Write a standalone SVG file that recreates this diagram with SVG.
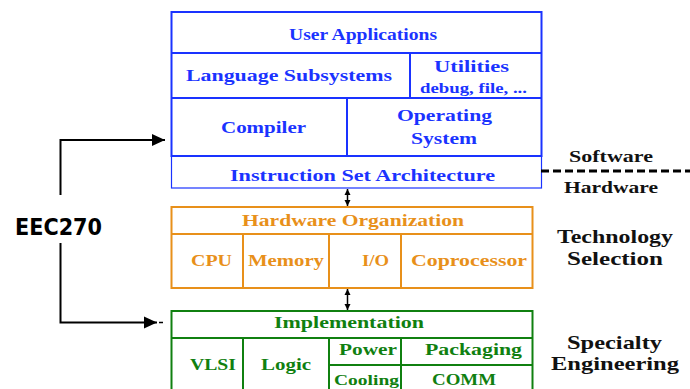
<svg xmlns="http://www.w3.org/2000/svg" width="690" height="389" viewBox="0 0 690 389">
<defs>
<style>
.t{font-family:"Liberation Serif","Times New Roman",serif;font-weight:bold;text-anchor:middle;font-size:17.5px}
.s{font-size:14px}
.m{font-size:15px}
.b{fill:#1a33ff}
.o{fill:#e8901a}
.g{fill:#108010}
.k{fill:#111}
.bl{stroke:#1a33ff;fill:none}
.ol{stroke:#e8901a;fill:none;stroke-width:2}
.gl{stroke:#108010;fill:none;stroke-width:2}
.c{stroke:#000;fill:none;stroke-width:2}
</style>
<marker id="ah" markerUnits="userSpaceOnUse" markerWidth="14" markerHeight="14" viewBox="0 0 14 14" refX="13" refY="7" orient="auto"><path d="M0,1 L13,7 L0,13 Z" fill="#000"/></marker>
<marker id="sh" markerUnits="userSpaceOnUse" markerWidth="6" markerHeight="8" viewBox="0 0 6 8" refX="6" refY="4" orient="auto-start-reverse"><path d="M0,1 L6,4 L0,7 Z" fill="#000"/></marker>
</defs>
<rect width="690" height="389" fill="#fff"/>
<g id="software">
<rect class="bl" x="171.5" y="12" width="370" height="144" stroke-width="2"/>
<line class="bl" x1="171.5" y1="53" x2="541.5" y2="53" stroke-width="2"/>
<line class="bl" x1="171.5" y1="98" x2="541.5" y2="98" stroke-width="2"/>
<line class="bl" x1="410" y1="53" x2="410" y2="98" stroke-width="2"/>
<line class="bl" x1="347" y1="98" x2="347" y2="156" stroke-width="2"/>
<rect class="bl" x="171.5" y="156" width="370" height="32" stroke-width="1.2"/>
<text class="t b" x="363" y="40" textLength="148" lengthAdjust="spacingAndGlyphs">User Applications</text>
<text class="t b" x="289" y="81" textLength="206" lengthAdjust="spacingAndGlyphs">Language Subsystems</text>
<text class="t b" x="471.5" y="72" textLength="75" lengthAdjust="spacingAndGlyphs">Utilities</text>
<text class="t s b" x="473.5" y="93" textLength="107" lengthAdjust="spacingAndGlyphs">debug, file, ...</text>
<text class="t b" x="263.5" y="133" textLength="85" lengthAdjust="spacingAndGlyphs">Compiler</text>
<text class="t b" x="444.5" y="121" textLength="95" lengthAdjust="spacingAndGlyphs">Operating</text>
<text class="t b" x="444" y="144" textLength="66" lengthAdjust="spacingAndGlyphs">System</text>
<text class="t b" x="362.5" y="181" textLength="265" lengthAdjust="spacingAndGlyphs">Instruction Set Architecture</text>
</g>
<g id="hardware-organization">
<rect class="ol" x="171.5" y="207" width="361" height="81"/>
<line class="ol" x1="171.5" y1="234" x2="532.5" y2="234"/>
<line class="ol" x1="243" y1="234" x2="243" y2="288"/>
<line class="ol" x1="329" y1="234" x2="329" y2="288"/>
<line class="ol" x1="401" y1="234" x2="401" y2="288"/>
<text class="t o" x="353" y="226" textLength="222" lengthAdjust="spacingAndGlyphs">Hardware Organization</text>
<text class="t o" x="211.5" y="266" textLength="41" lengthAdjust="spacingAndGlyphs">CPU</text>
<text class="t o" x="286" y="266" textLength="76" lengthAdjust="spacingAndGlyphs">Memory</text>
<text class="t o" x="375.5" y="266" textLength="27" lengthAdjust="spacingAndGlyphs">I/O</text>
<text class="t o" x="469" y="266" textLength="116" lengthAdjust="spacingAndGlyphs">Coprocessor</text>
</g>
<g id="implementation">
<rect class="gl" x="171.5" y="311" width="361" height="90"/>
<line class="gl" x1="171.5" y1="338" x2="532.5" y2="338"/>
<line class="gl" x1="243" y1="338" x2="243" y2="392"/>
<line class="gl" x1="329" y1="338" x2="329" y2="392"/>
<line class="gl" x1="401" y1="338" x2="401" y2="392"/>
<line class="gl" x1="329" y1="365" x2="532.5" y2="365"/>
<text class="t g" x="349" y="328" textLength="150" lengthAdjust="spacingAndGlyphs">Implementation</text>
<text class="t g" x="213" y="370" textLength="46" lengthAdjust="spacingAndGlyphs">VLSI</text>
<text class="t g" x="286" y="370" textLength="50" lengthAdjust="spacingAndGlyphs">Logic</text>
<text class="t g" x="368" y="355" textLength="58" lengthAdjust="spacingAndGlyphs">Power</text>
<text class="t g" x="473.5" y="355" textLength="97" lengthAdjust="spacingAndGlyphs">Packaging</text>
<text class="t m g" x="366.5" y="385" textLength="65" lengthAdjust="spacingAndGlyphs">Cooling</text>
<text class="t g" x="464" y="385" textLength="64" lengthAdjust="spacingAndGlyphs">COMM</text>
</g>
<g id="labels">
<text class="t k" style="font-size:16px" x="611" y="162" textLength="84" lengthAdjust="spacingAndGlyphs">Software</text>
<text class="t k" style="font-size:16px" x="611" y="193" textLength="94" lengthAdjust="spacingAndGlyphs">Hardware</text>
<text class="t k" style="font-size:19.5px" x="615" y="243" textLength="116" lengthAdjust="spacingAndGlyphs">Technology</text>
<text class="t k" style="font-size:19.5px" x="615" y="265" textLength="96" lengthAdjust="spacingAndGlyphs">Selection</text>
<text class="t k" style="font-size:19.5px" x="614.5" y="349" textLength="95" lengthAdjust="spacingAndGlyphs">Specialty</text>
<text class="t k" style="font-size:19.5px" x="615" y="370" textLength="128" lengthAdjust="spacingAndGlyphs">Engineering</text>
</g>
<g id="eec270">
<text x="58.5" y="235" style="font-family:'DejaVu Sans','Liberation Sans',sans-serif;font-weight:bold;font-size:23px;text-anchor:middle" fill="#000" textLength="87" lengthAdjust="spacingAndGlyphs">EEC270</text>
</g>
<g id="connectors">
<path class="c" d="M60.5,195 V140 H165" marker-end="url(#ah)"/>
<path class="c" d="M60.5,243 V322.5 H157" marker-end="url(#ah)"/>
<line x1="159" y1="322.5" x2="163" y2="322.5" stroke="#000" stroke-width="1.5"/>
<line x1="347.5" y1="189" x2="347.5" y2="206" stroke="#000" stroke-width="1.5" marker-start="url(#sh)" marker-end="url(#sh)"/>
<line x1="347.5" y1="289" x2="347.5" y2="310" stroke="#000" stroke-width="1.5" marker-start="url(#sh)" marker-end="url(#sh)"/>
<line x1="541" y1="171" x2="690" y2="171" stroke="#000" stroke-width="3" stroke-dasharray="8 4"/>
</g>
</svg>
